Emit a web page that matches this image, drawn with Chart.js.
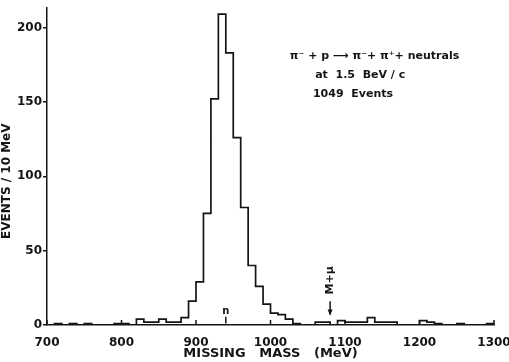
<!DOCTYPE html>
<html>
<head>
<meta charset="utf-8">
<script src="https://cdn.jsdelivr.net/npm/chart.js@4.4.1/dist/chart.umd.min.js"></script>
<style>
  html, body { margin: 0; padding: 0; background: #fff; }
  #wrap { width: 509px; height: 362px; }
</style>
</head>
<body>
<div id="wrap"><canvas id="hist"></canvas></div>
<script>
"use strict";

/* --- DATA --- */

// lower edge of each 10 MeV bin
const bin_low = [
  700, 710, 720, 730, 740, 750, 760, 770, 780, 790,
  800, 810, 820, 830, 840, 850, 860, 870, 880, 890,
  900, 910, 920, 930, 940, 950, 960, 970, 980, 990,
  1000, 1010, 1020, 1030, 1040, 1050, 1060, 1070, 1080, 1090,
  1100, 1110, 1120, 1130, 1140, 1150, 1160, 1170, 1180, 1190,
  1200, 1210, 1220, 1230, 1240, 1250, 1260, 1270, 1280, 1290
];

const bin_high = 1300;

// events per bin
const events = [
  0, 1, 0, 1, 0, 1, 0, 0, 0, 1,
  1, 0, 4, 2, 2, 4, 2, 2, 5, 16,
  29, 75, 152, 209, 183, 126, 79, 40, 26, 14,
  8, 7, 4, 1, 0, 0, 2, 2, 0, 3,
  2, 2, 2, 5, 2, 2, 2, 0, 0, 0,
  3, 2, 1, 0, 0, 1, 0, 0, 0, 1
];

const x_ticks = [700, 800, 900, 1000, 1100, 1200, 1300];
const y_ticks = [0, 50, 100, 150, 200];

const reaction_text = [
  'π⁻ + p ⟶ π⁻+ π⁺+ neutrals',
  'at  1.5  BeV / c',
  '1049  Events'
];

// markers: [mass, label]
const marker_n = [940, 'n'];
const marker_mmu = [1080, 'M+μ'];

/* --- build the stepped outline --- */

let step_points = [];
for (let i = 0; i < bin_low.length; i++) {
  step_points.push({ x: bin_low[i], y: events[i] });
}
step_points.push({ x: bin_high, y: events[events.length - 1] });
step_points.push({ x: bin_high, y: 0 });

const ink = '#141414';
const font_family = '"DejaVu Sans", sans-serif';

/* --- extra drawing: inner x ticks, arrows, text --- */

const decorations = {
  id: 'decorations',
  afterDraw(chart) {
    const ctx = chart.ctx;
    const xs = chart.scales.x;
    const ys = chart.scales.y;
    const base = ys.getPixelForValue(0);

    ctx.save();
    ctx.strokeStyle = ink;
    ctx.fillStyle = ink;
    ctx.lineWidth = 1.5;

    // x ticks point up into the plot
    x_ticks.forEach(v => {
      const px = xs.getPixelForValue(v);
      ctx.beginPath();
      ctx.moveTo(px, base);
      ctx.lineTo(px, base - 5);
      ctx.stroke();
    });

    // n arrow
    let px = xs.getPixelForValue(marker_n[0]);
    ctx.beginPath();
    ctx.moveTo(px, ys.getPixelForValue(5.5));
    ctx.lineTo(px, ys.getPixelForValue(1));
    ctx.stroke();
    ctx.font = 'bold 10px ' + font_family;
    ctx.textAlign = 'center';
    ctx.textBaseline = 'bottom';
    ctx.fillText(marker_n[1], px, ys.getPixelForValue(5.5));

    // M + mu arrow
    px = xs.getPixelForValue(marker_mmu[0]);
    const tip = ys.getPixelForValue(7);
    ctx.beginPath();
    ctx.moveTo(px, ys.getPixelForValue(16));
    ctx.lineTo(px, tip);
    ctx.stroke();
    ctx.beginPath();
    ctx.moveTo(px, tip + 1);
    ctx.lineTo(px - 2.5, tip - 5);
    ctx.lineTo(px + 2.5, tip - 5);
    ctx.closePath();
    ctx.fill();
    ctx.save();
    ctx.translate(px, ys.getPixelForValue(30));
    ctx.rotate(-Math.PI / 2);
    ctx.textAlign = 'center';
    ctx.textBaseline = 'middle';
    ctx.font = 'bold 11px ' + font_family;
    ctx.fillText(marker_mmu[1], 0, 0);
    ctx.restore();

    // reaction text block
    ctx.font = 'bold 11px ' + font_family;
    ctx.textAlign = 'left';
    ctx.textBaseline = 'middle';
    ctx.fillText(reaction_text[0], xs.getPixelForValue(1026), ys.getPixelForValue(181));
    ctx.fillText(reaction_text[1], xs.getPixelForValue(1060), ys.getPixelForValue(168));
    ctx.fillText(reaction_text[2], xs.getPixelForValue(1057), ys.getPixelForValue(155));

    ctx.restore();
  }
};

/* --- CHART --- */

const hist_canvas = document.getElementById('hist');

let hist_chart = new Chart(hist_canvas, {
  type: 'line',
  data: {
    datasets: [{
      label: 'Events',
      data: step_points,
      stepped: 'before',
      borderColor: ink,
      borderWidth: 1.7,
      pointRadius: 0,
      fill: false
    }]
  },
  options: {
    responsive: true,
    maintainAspectRatio: false,
    animation: false,
    layout: {
      padding: { top: 7, right: 15, left: 0, bottom: 0 }
    },
    plugins: {
      legend: { display: false },
      tooltip: { enabled: false },
      title: { display: false }
    },
    scales: {
      x: {
        type: 'linear',
        min: 700,
        max: 1300,
        afterBuildTicks: (scale) => {
          scale.ticks = x_ticks.map(v => ({ value: v }));
        },
        afterFit: (scale) => {
          scale.height = 37;
          scale.paddingRight = 0;
          scale.paddingLeft = 0;
        },
        ticks: {
          color: ink,
          font: { family: font_family, size: 12, weight: 'bold' },
          padding: 3,
          maxRotation: 0,
          autoSkip: false,
          callback: (v) => String(v)
        },
        grid: { display: false },
        border: { display: true, color: ink, width: 1.5 },
        title: {
          display: true,
          text: 'MISSING   MASS   (MeV)',
          color: ink,
          font: { family: font_family, size: 13, weight: 'bold' },
          padding: { top: 0, bottom: 1 }
        }
      },
      y: {
        type: 'linear',
        min: 0,
        max: 213,
        afterBuildTicks: (scale) => {
          scale.ticks = y_ticks.map(v => ({ value: v }));
        },
        afterFit: (scale) => { scale.width = 47; },
        ticks: {
          color: ink,
          font: { family: font_family, size: 12, weight: 'bold' },
          padding: 1,
          callback: (v) => String(v)
        },
        grid: {
          display: true,
          drawOnChartArea: false,
          drawTicks: true,
          tickLength: 4,
          color: ink,
          lineWidth: 1.5
        },
        border: { display: true, color: ink, width: 1.5 },
        title: {
          display: true,
          text: 'EVENTS / 10 MeV       ',
          color: ink,
          font: { family: font_family, size: 12, weight: 'bold' },
          padding: { top: 0, bottom: 2 }
        }
      }
    }
  },
  plugins: [decorations]
});
</script>
</body>
</html>
